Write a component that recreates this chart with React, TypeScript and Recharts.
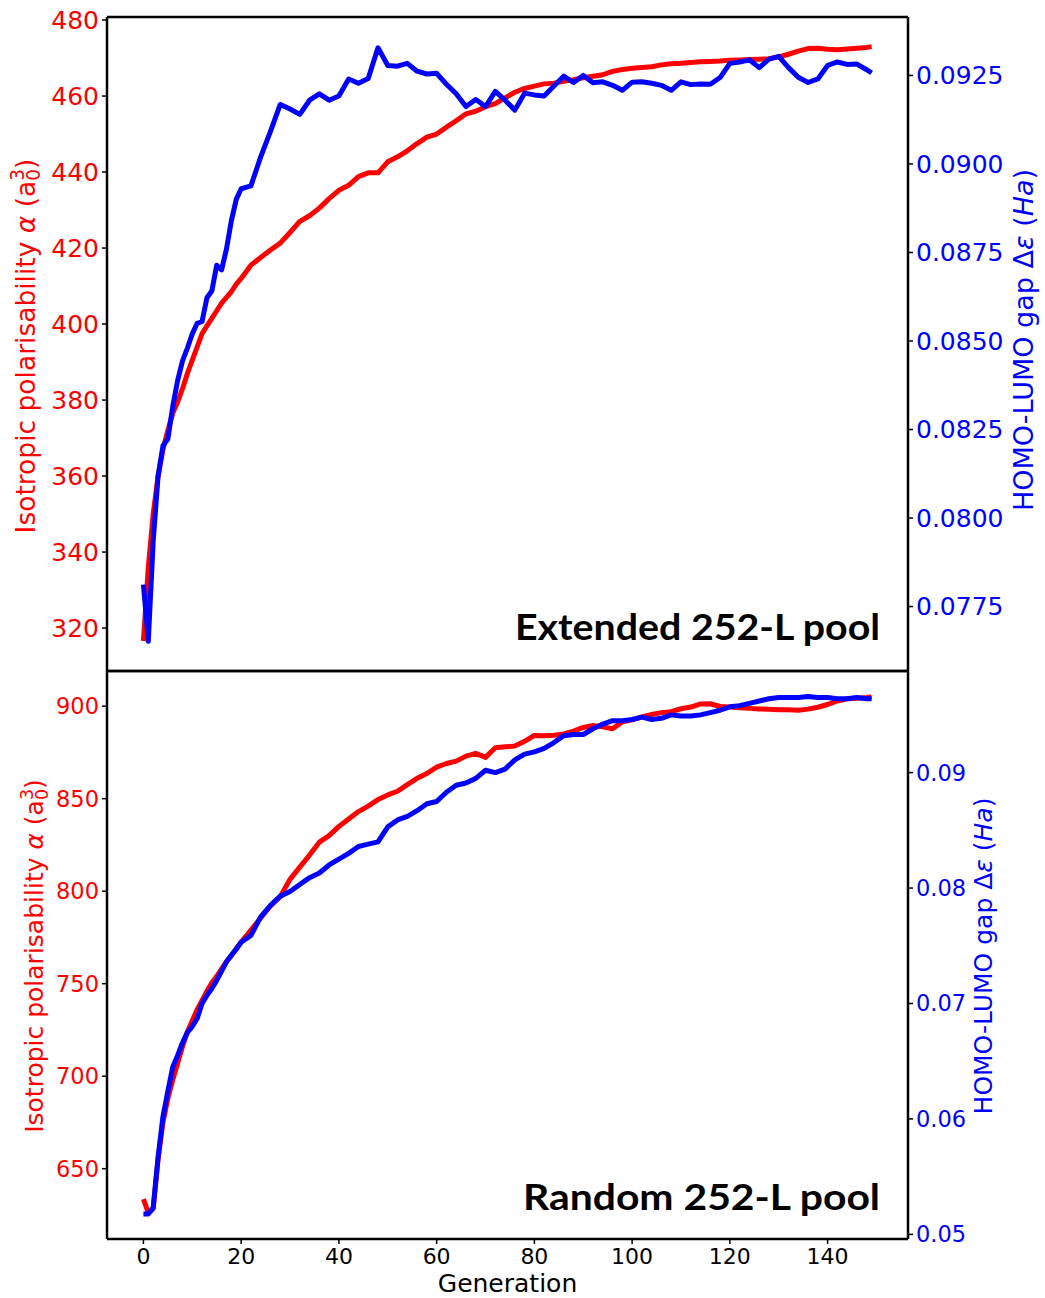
import React from 'react';
import { LineChart, Line, XAxis, YAxis } from 'recharts';

// generation index (every generation up to 20, then every second one)
const generations = [
  0, 1, 2, 3, 4, 5, 6, 7, 8, 9, 10, 11, 12, 13, 14, 15, 16, 17, 18, 19, 20,
  22, 24, 26, 28, 30, 32, 34, 36, 38, 40, 42, 44, 46, 48, 50, 52, 54, 56, 58, 60,
  62, 64, 66, 68, 70, 72, 74, 76, 78, 80, 82, 84, 86, 88, 90, 92, 94, 96, 98, 100,
  102, 104, 106, 108, 110, 112, 114, 116, 118, 120, 122, 124, 126, 128, 130, 132, 134, 136, 138, 140, 142, 144, 146, 148,
  149,
];

// Extended 252-L pool
const extendedAlpha = [
  316.6, 336, 350, 360, 367, 372, 376.5, 379.5, 383, 387, 390.5, 394, 397.5, 399.5, 401.5, 403.5, 405.5, 407, 408.5, 410.5, 412,
  415.5, 417.5, 419.5, 421.3, 424.1, 427, 428.5, 430.5, 433, 435.2, 436.5, 438.8, 439.8, 439.8, 442.7, 444, 445.6, 447.5, 449.2, 450,
  451.8, 453.5, 455.3, 456, 457.2, 458, 459.5, 461, 462, 462.6, 463.2, 463.4, 463.9, 464.3, 464.8, 465.2, 465.6, 466.5, 467, 467.3,
  467.5, 467.7, 468.2, 468.5, 468.6, 468.8, 469, 469.1, 469.2, 469.4, 469.5, 469.6, 469.7, 469.8, 470.3, 471, 471.8, 472.5, 472.6, 472.3, 472.2, 472.4, 472.6, 472.8,
  473,
];
const extendedGap = [
  0.07812, 0.07652, 0.07934, 0.08118, 0.08204, 0.08223, 0.08315, 0.08388, 0.08444, 0.0848, 0.0852, 0.0855, 0.08555, 0.08622, 0.08641, 0.08714, 0.08701, 0.0876, 0.0884, 0.089, 0.0893,
  0.08938, 0.0902, 0.09092, 0.09168, 0.09155, 0.0914, 0.0918, 0.09198, 0.0918, 0.09192, 0.0924, 0.09228, 0.09241, 0.09328, 0.09278, 0.09276, 0.09284, 0.09262, 0.09254, 0.09256,
  0.09225, 0.09198, 0.09162, 0.09182, 0.09162, 0.09205, 0.0918, 0.09152, 0.092, 0.09195, 0.09192, 0.0922, 0.09248, 0.0923, 0.0925, 0.09229, 0.09232, 0.09222, 0.09208, 0.09231,
  0.09232, 0.09228, 0.09222, 0.09208, 0.09232, 0.09224, 0.09226, 0.09225, 0.09244, 0.09284, 0.09288, 0.09294, 0.09272, 0.09296, 0.09304, 0.09272, 0.09245, 0.0923, 0.0924, 0.09278, 0.09288, 0.09281, 0.09282, 0.09266,
  0.09257,
];

// Random 252-L pool
const randomAlpha = [
  633.5, 626.2, 628.4, 655, 675, 688, 698, 707, 716, 724, 730, 736, 741, 746, 750.5, 754, 758, 762, 765, 769, 772.5,
  779, 785.5, 792, 797, 806.4, 813, 819.5, 826.5, 830, 835, 839, 843, 846, 849.5, 852, 854, 857.6, 861, 863.6, 867,
  869, 870.3, 873, 874.5, 872.3, 877.5, 878, 878.4, 881, 884.2, 884, 884.3, 885, 886.5, 888.5, 889.5, 888.8, 887.8, 891.5, 892.6,
  894.2, 895.5, 896.5, 897, 898.6, 899.5, 901.2, 901.3, 899.8, 899.6, 899.2, 898.8, 898.5, 898.3, 898.1, 898, 897.8, 898.4, 899.4, 900.9, 902.8, 904, 904.3, 904.7,
  905,
];
const randomGap = [
  0.05177, 0.05177, 0.0523, 0.0567, 0.0602, 0.0624, 0.0645, 0.0655, 0.0666, 0.0675, 0.068, 0.0687, 0.07, 0.0707, 0.0713, 0.072, 0.0728, 0.0736, 0.0742, 0.0747, 0.0753,
  0.0759, 0.0775, 0.0785, 0.0793, 0.0797, 0.0803, 0.0809, 0.0813, 0.082, 0.0825, 0.083, 0.0836, 0.0838, 0.084, 0.0853, 0.0859, 0.0862, 0.0867, 0.0873, 0.0875,
  0.0883, 0.0889, 0.0891, 0.0895, 0.0902, 0.09, 0.0903, 0.0911, 0.0916, 0.0918, 0.0921, 0.0926, 0.0932, 0.0933, 0.0933, 0.0938, 0.0942, 0.0945, 0.0945, 0.0946,
  0.0948, 0.0946, 0.0947, 0.095, 0.0949, 0.0949, 0.095, 0.0952, 0.0954, 0.0957, 0.0958, 0.096, 0.0962, 0.0964, 0.0965, 0.0965, 0.0965, 0.0966, 0.0965, 0.0965, 0.0964, 0.0964, 0.0965, 0.0964,
  0.0964,
];

const genTicks = [0, 20, 40, 60, 80, 100, 120, 140];
const extendedAlphaTicks = [320, 340, 360, 380, 400, 420, 440, 460, 480];
const extendedGapTicks = [0.0775, 0.08, 0.0825, 0.085, 0.0875, 0.09, 0.0925];
const randomAlphaTicks = [650, 700, 750, 800, 850, 900];
const randomGapTicks = [0.05, 0.06, 0.07, 0.08, 0.09];

const extendedRows = generations.map((gen, i) => ({ gen, alpha: extendedAlpha[i], gap: extendedGap[i] }));
const randomRows = generations.map((gen, i) => ({ gen, alpha: randomAlpha[i], gap: randomGap[i] }));

const RED = '#ff0000';
const BLUE = '#0000ff';
const FONT = 'DejaVu Sans';
const X_DOMAIN: [number, number] = [-7.45, 156.45];
const frame = { stroke: '#000', strokeWidth: 2.5 };
const tickLine = { stroke: '#000', strokeWidth: 1.5 };

// rotated axis title for the polarisability axis, with the stacked a_0^3
const AlphaTitle = ({ x, y, size }: { x: number; y: number; size: number }) => {
  const small = size * 0.7;
  return (
    <text x={x} y={y} transform={`rotate(-90 ${x} ${y})`} textAnchor="middle" fill={RED} fontSize={size} fontFamily={FONT}>
      Isotropic polarisability <tspan fontStyle="italic">α</tspan> (a
      <tspan fontSize={small} dy={size * 0.2}>0</tspan>
      <tspan fontSize={small} dx={-small * 0.636} dy={-size * 0.62}>3</tspan>
      <tspan dy={size * 0.42}>)</tspan>
    </text>
  );
};

const GapTitle = ({ x, y, size }: { x: number; y: number; size: number }) => (
  <text x={x} y={y} transform={`rotate(-90 ${x} ${y})`} textAnchor="middle" fill={BLUE} fontSize={size} fontFamily={FONT}>
    HOMO-LUMO gap Δ<tspan fontStyle="italic">ε</tspan> (<tspan fontStyle="italic">Ha</tspan>)
  </text>
);

const App: React.FC = () => {
  return (
    <div style={{ position: 'absolute', left: 0, top: 0, width: 1045, height: 1298, background: '#fff' }}>
      {/* Extended pool */}
      <div style={{ position: 'absolute', left: 0, top: 0 }}>
        <LineChart width={1045} height={690} data={extendedRows} margin={{ top: 16, right: 0, bottom: 18, left: 0 }}>
          <XAxis xAxisId="b" dataKey="gen" type="number" domain={X_DOMAIN} ticks={genTicks} tick={false} tickLine={false} height={1} axisLine={frame} />
          <XAxis xAxisId="t" orientation="top" dataKey="gen" type="number" domain={X_DOMAIN} tick={false} tickLine={false} height={1} axisLine={frame} />
          <YAxis
            yAxisId="a"
            width={107}
            type="number"
            domain={[308.7, 480.8]}
            ticks={extendedAlphaTicks}
            tick={{ fill: RED, fontSize: 25, fontFamily: FONT }}
            tickLine={tickLine}
            tickSize={5}
            tickMargin={3}
            axisLine={frame}
            interval={0}
          />
          <YAxis
            yAxisId="g"
            orientation="right"
            width={137}
            type="number"
            domain={[0.07568, 0.09415]}
            ticks={extendedGapTicks}
            tickFormatter={(v: number) => v.toFixed(4)}
            tick={{ fill: BLUE, fontSize: 25, fontFamily: FONT }}
            tickLine={tickLine}
            tickSize={5}
            tickMargin={3}
            axisLine={frame}
            interval={0}
          />
          <Line xAxisId="b" yAxisId="a" type="linear" dataKey="alpha" stroke={RED} strokeWidth={5} strokeLinejoin="round" dot={false} isAnimationActive={false} />
          <Line xAxisId="b" yAxisId="g" type="linear" dataKey="gap" stroke={BLUE} strokeWidth={5} strokeLinejoin="round" dot={false} isAnimationActive={false} />
        </LineChart>
      </div>

      {/* Random pool */}
      <div style={{ position: 'absolute', left: 0, top: 640 }}>
        <LineChart width={1045} height={658} data={randomRows} margin={{ top: 30, right: 0, bottom: 0, left: 0 }}>
          <XAxis
            xAxisId="b"
            dataKey="gen"
            type="number"
            domain={X_DOMAIN}
            ticks={genTicks}
            tick={{ fill: '#000', fontSize: 22, fontFamily: FONT }}
            tickLine={tickLine}
            tickSize={5}
            tickMargin={4}
            height={59}
            axisLine={frame}
            interval={0}
          />
          <XAxis xAxisId="t" orientation="top" dataKey="gen" type="number" domain={X_DOMAIN} tick={false} tickLine={false} height={1} axisLine={frame} />
          <YAxis
            yAxisId="a"
            width={107}
            type="number"
            domain={[612, 919]}
            ticks={randomAlphaTicks}
            tick={{ fill: RED, fontSize: 22.5, fontFamily: FONT }}
            tickLine={tickLine}
            tickSize={5}
            tickMargin={3}
            axisLine={frame}
            interval={0}
          />
          <YAxis
            yAxisId="g"
            orientation="right"
            width={137}
            type="number"
            domain={[0.0496, 0.0988]}
            ticks={randomGapTicks}
            tickFormatter={(v: number) => v.toFixed(2)}
            tick={{ fill: BLUE, fontSize: 22.5, fontFamily: FONT }}
            tickLine={tickLine}
            tickSize={5}
            tickMargin={3}
            axisLine={frame}
            interval={0}
          />
          <Line xAxisId="b" yAxisId="a" type="linear" dataKey="alpha" stroke={RED} strokeWidth={5} strokeLinejoin="round" dot={false} isAnimationActive={false} />
          <Line xAxisId="b" yAxisId="g" type="linear" dataKey="gap" stroke={BLUE} strokeWidth={5} strokeLinejoin="round" dot={false} isAnimationActive={false} />
        </LineChart>
      </div>

      {/* titles and panel labels */}
      <svg width={1045} height={1298} style={{ position: 'absolute', left: 0, top: 0, pointerEvents: 'none' }}>
        <AlphaTitle x={35} y={346} size={26.5} />
        <GapTitle x={1033} y={340} size={27} />
        <AlphaTitle x={43} y={956} size={25} />
        <GapTitle x={992} y={956} size={25} />
        <text x={507.5} y={1292} textAnchor="middle" fontSize={25} fontFamily={FONT} fill="#000">
          Generation
        </text>
        <text x={515} y={640} fontSize={36} fontWeight={700} fontFamily="Lato" fill="#000" textLength={365} lengthAdjust="spacingAndGlyphs">
          Extended 252-L pool
        </text>
        <text x={523} y={1210} fontSize={36} fontWeight={700} fontFamily="Lato" fill="#000" textLength={357} lengthAdjust="spacingAndGlyphs">
          Random 252-L pool
        </text>
      </svg>
    </div>
  );
};

export default App;
